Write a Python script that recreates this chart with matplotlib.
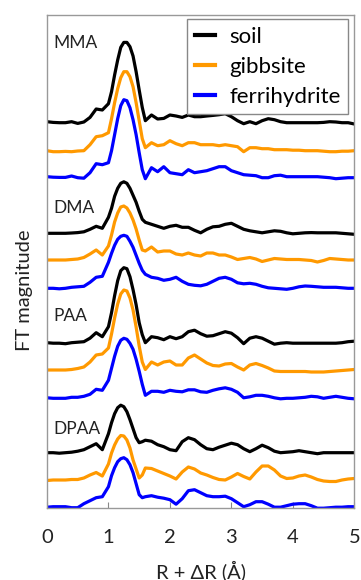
import matplotlib
matplotlib.use("Agg")
import matplotlib.pyplot as plt
import numpy as np

plt.rcParams['font.family'] = ['Lato', 'DejaVu Sans']

# R + dR grid (Angstrom)
R = [0, 0.1, 0.2, 0.3, 0.4, 0.5, 0.6, 0.7, 0.8, 0.9, 1.0,
     1.05, 1.1, 1.15, 1.2, 1.25, 1.3, 1.35, 1.4, 1.45, 1.5, 1.55, 1.6,
     1.7, 1.8, 1.9, 2.0, 2.1, 2.2, 2.3, 2.4, 2.5, 2.6, 2.7, 2.8, 2.9, 3.0,
     3.1, 3.2, 3.3, 3.4, 3.5, 3.6, 3.7, 3.8, 3.9, 4.0, 4.1, 4.2, 4.3, 4.4,
     4.5, 4.6, 4.7, 4.8, 4.9, 5.0]

# FT magnitudes (arbitrary units)
mma_soil = [0, -0.7, -1, -1, 0, -1.7, -0.3, 4.3, 12.7, 11.7, 18,
            30, 46.7, 61.7, 74.3, 79.3, 79.3, 75, 65.7, 50, 31.7, 14.3, 1,
            6.7, 2.7, 3.3, 6.7, 5.7, 4.3, 6.7, 5, 5, 5.7, 6.3, 7, 8, 5,
            1, -2, 0, -2, 1, 3, 2, 0, -1, -1, -1, -1, -1, -1,
            -0.7, 0, -0.3, -1, -1, -2.3]
mma_gibb = [0, -1, -1, -0.7, -1, -0.3, 0, 6, 14, 15, 18,
            32, 48, 62, 73, 79, 79, 74, 64, 48, 30, 12, 3,
            8, 5, 6, 10, 7, 5, 8, 8, 6, 6, 6, 5, 6, 5,
            4, -1, 3, 3, 2, 2, 1, 1, 1, 0.5, 0.5, 0, 0, 0,
            -0.5, -1, -1, -0.5, -0.5, 0]
mma_ferri = [0, -0.5, -0.7, -0.7, 0.7, -1, -1.5, 4, 13, 12, 14,
             26, 42, 58, 71, 77, 76, 69, 57, 42, 24, 7, -2,
             9, 5, 10, 4, 3, 2, 7, 4, 5, 6, 8, 10, 10, 6,
             4, 2, 1.5, 1, -1, -1, 1, 1.5, 0, 0, 0, 0, 0, 0,
             -0.5, -1, -2, -1.5, -1, -1]

dma_soil = [0, 0, 0, 0, 0.3, 0.7, 1.5, 4, 7, 5, 16,
            25, 37, 45, 50, 51.5, 50, 45, 38, 31, 22, 14, 11,
            9, 7, 5, 7, 8, 6, 6, 3, 0.5, 4, 6.5, 7, 9, 10,
            7, 4, 2.5, 1.5, 0.5, 1.5, 2.5, 2, 0.5, -0.5, 0, 0.5, 0.7, 0.5,
            0.5, 0.5, 0.5, 0, -0.5, -1]
dma_gibb = [0, 0, 0, 0, 0.5, 1, 2.5, 6, 10, 5, 14,
            25, 38, 47, 53, 54, 52, 47, 40, 31, 20, 10, 9,
            13, 8, 9, 9, 6, 5, 7, 5, 4, 7, 7, 5, 5, 3,
            0.5, 1.5, 2.5, 1, -1.5, 0, 1.5, 1, 0.5, 0.5, 0.5, 0, -0.5, -2,
            -0.5, 1.5, 1, 0.5, 0, 0]
dma_ferri = [0, 0, -0.5, 0, 1, 1.5, 2, 6, 11, 12, 26,
             35, 43, 49, 52, 53, 52, 47, 41, 33, 25, 18, 14,
             11, 10, 8, 9, 11, 7, 4, 3, 2.5, 4, 7, 10, 11, 9,
             5.5, 4.5, 5, 4, 2, 0.5, 0, -0.5, -1, 0, 1.5, 2.3, 2, 1.5,
             1, 1, 1, 0.5, 0, 0]

paa_soil = [0, -0.5, -0.5, -1, 0, 0.5, 1, 4.5, 10, 6, 16,
            30, 47, 62, 72, 75, 74, 66, 53, 38, 20, 8, 0,
            6, 5, 3, 6, 4, 6, 11, 12.5, 9, 6.5, 7, 9, 11, 9.5,
            5, -1, 4.5, 6, 4.5, 1.5, -1.5, -0.5, 0, -0.5, -0.5, -0.5, -0.5, -0.5,
            -0.5, -0.5, -0.5, 0, 1, 1.5]
paa_gibb = [0, 0, 0, 0, 0.5, 1.5, 3, 8, 15, 16, 22,
            36, 52, 66, 76, 80, 79, 72, 60, 43, 24, 8, 0.5,
            8, 5, 8, 9, 5, 5, 12, 15, 11, 7, 4.5, 4, 6, 6.5,
            3, 0, 5, 6.5, 4.5, 2, -1, -1.5, -1.5, -1.5, -1.5, -1.5, -2, -2,
            -2, -1.5, -1, -0.5, 0, 0.5]
paa_ferri = [0.5, 0, 0, 0, 1, 1, 2, 4, 9, 8, 18,
             30, 42, 52, 58, 60, 59, 55, 49, 39, 27, 14, 3,
             7, 7, 6, 8, 7, 6.5, 8.5, 8.5, 6.5, 6, 8, 9.5, 10.5, 9,
             6, 0.5, 1.5, 3, 3, 2, 0.5, -0.5, 0, 0, 0.5, 1, 2, 1.5,
             0, 1, 2, 1, 0, -0.5]

dpaa_soil = [0, 0, -0.5, 0, 0.5, 1.5, 3, 6, 9, 3, 19,
             30, 39, 45, 47.5, 46, 41, 33, 24, 15, 10, 11, 12.5,
             11.5, 8, 6, 3, 2, 11, 15, 13, 8, 4, 3, 5.5, 7.5, 9.5,
             8, 4, 1, 4, 7.5, 5, 1.5, 0, 0.5, 1, 2, 1, 0, -1,
             0, 0, 0, 0, 0, 0]
dpaa_gibb = [-0.5, 0, 0, 0, 0.5, 0.5, 2, 5, 7.5, 4, 16,
             27, 35, 41, 44.5, 44, 40, 32, 20, 11, 2, 5, 12,
             11.5, 9, 6.5, 4, 1, 8, 13, 11, 7, 5, 2.5, 0.5, 0, 3,
             6.5, 3.5, 1, 8, 14, 14, 10, 4, 1.5, 2, 4, 5, 3, 0.5,
             -1, -1.5, -1.5, 0, 1, 1.5]
dpaa_ferri = [-0.5, 0, 0, 0, -1, -1, 3, 6, 9, 10, 20,
              31, 39, 45, 48, 49, 47, 42, 34, 23, 12, 9, 10,
              11, 9.5, 8.5, 7, 2.5, 8, 16, 17, 14, 11, 10, 10, 10.5, 8,
              4, 0, 2, 5, 5, 2.5, -0.5, -0.5, 1, 2.5, 3, 3, 1, -1.5,
              -1.5, -1, -0.5, -0.5, 0, 0]

compounds = ["MMA", "DMA", "PAA", "DPAA"]
sorbents = ["soil", "gibbsite", "ferrihydrite"]
colors = ["#000000", "#FF9900", "#0000FF"]
series = [[mma_soil, mma_gibb, mma_ferri],
          [dma_soil, dma_gibb, dma_ferri],
          [paa_soil, paa_gibb, paa_ferri],
          [dpaa_soil, dpaa_gibb, dpaa_ferri]]
# vertical stacking offsets for each curve
offsets = [[386.3, 357.3, 331.3],
           [274.7, 248.0, 219.7],
           [165.3, 138.0, 109.7],
           [55.3, 28.0, 1.3]]
label_y = [465, 300, 192, 79]

fig = plt.figure(figsize=(3.61, 5.80), dpi=100)
ax = fig.add_axes([47/361, 1 - 508/580, (354.3 - 47)/361, 493/580])

x = np.array(R)
for i, comp in enumerate(compounds):
    for j, sorb in enumerate(sorbents):
        y = np.array(series[i][j]) + offsets[i][j]
        ax.plot(x, y, color=colors[j], lw=2.3, solid_joinstyle='round',
                label=sorb if i == 0 else None)
    ax.text(0.1, label_y[i], comp, fontsize=12.5, color='#222222',
            ha='left', va='center')

ax.set_xlim(0, 5)
ax.set_ylim(0, 493)
ax.set_xticks([0, 1, 2, 3, 4, 5])
ax.set_yticks([])
ax.tick_params(axis='x', direction='in', length=4, color='#888888',
               labelsize=14.5, pad=15, labelcolor='#222222')
for s in ax.spines.values():
    s.set_color('#999999')
    s.set_linewidth(1.0)

ax.set_xlabel("R + ΔR (Å)", fontsize=14.5, color='#222222', va='center')
ax.xaxis.set_label_coords(0.5, (508 - 571) / 493)
ax.set_ylabel("FT magnitude", fontsize=14.5, color='#222222', va='center')
ax.yaxis.set_label_coords((25 - 47) / 307.3, (508 - 290) / 493)

leg = ax.legend(loc='upper right', bbox_to_anchor=(0.98, 0.992),
                borderaxespad=0, fontsize=16, handlelength=0.9,
                handletextpad=0.63, labelspacing=0.45, borderpad=0.35,
                fancybox=False, framealpha=1)
leg.get_frame().set_edgecolor('#888888')
leg.get_frame().set_linewidth(1.0)
for line in leg.get_lines():
    line.set_linewidth(3)

fig.savefig("out.png", dpi=100)
